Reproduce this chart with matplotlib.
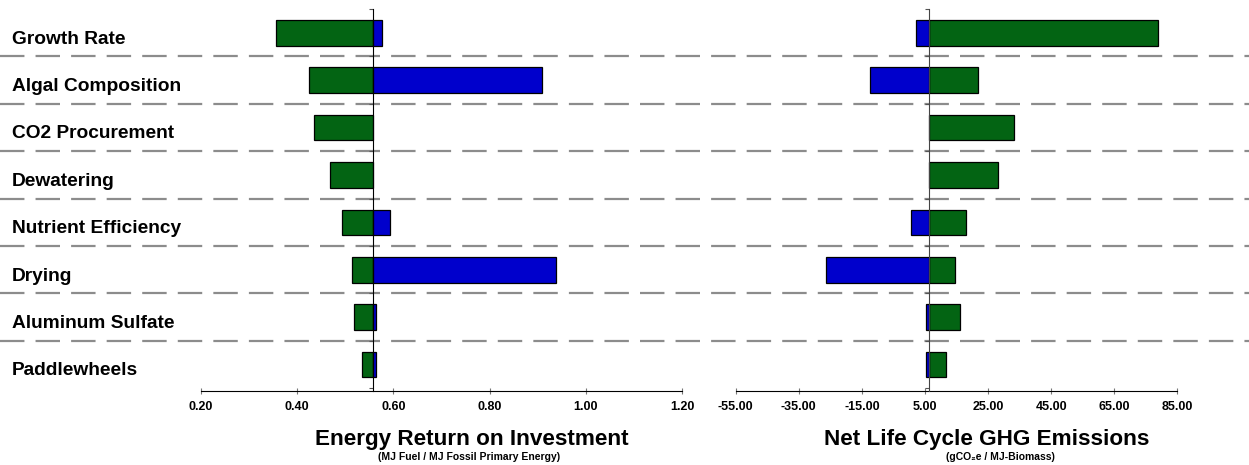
import matplotlib.pyplot as plt
import numpy as np

plt.rcParams['font.family'] = ['Liberation Sans', 'DejaVu Sans']

# Sensitivity cases, top to bottom
factors = ["Growth Rate", "Algal Composition", "CO2 Procurement", "Dewatering",
           "Nutrient Efficiency", "Drying", "Aluminum Sulfate", "Paddlewheels"]

# Energy return on investment (MJ fuel / MJ fossil primary energy)
eroi_base = 0.558
eroi_worse = [0.356, 0.425, 0.435, 0.469, 0.494, 0.513, 0.519, 0.535]
eroi_better = [0.577, 0.908, 0.558, 0.558, 0.593, 0.938, 0.563, 0.563]
eroi_ticks = [0.20, 0.40, 0.60, 0.80, 1.00, 1.20]

# Net life cycle GHG emissions (gCO2e / MJ biomass)
ghg_base = 6.4
ghg_worse = [78.8, 21.7, 33.3, 28.1, 18.0, 14.4, 16.0, 11.7]
ghg_better = [2.2, -12.4, 6.4, 6.4, 0.6, -26.4, 5.2, 5.2]
ghg_ticks = [-55, -35, -15, 5, 25, 45, 65, 85]

GREEN = '#036413'
BLUE = '#0000cc'
BAR_H = 0.54

fig = plt.figure(figsize=(12.49, 4.65), dpi=100)
bottom, height = 0.159, 0.8215
ylim = (7.56, -0.5)

# background axes for the row separators and category names
bg = fig.add_axes([0, bottom, 1, height], zorder=0)
bg.set_xlim(0, 1)
bg.set_ylim(*ylim)
bg.axis('off')
for k in range(len(factors) - 1):
    bg.axhline(k + 0.5, color='#8c8c8c', lw=1.6, linestyle=(0, (11, 5)))
for k, name in enumerate(factors):
    # baselines sit a little below the bar centres
    bg.text(0.0096, k + 0.23, name, ha='left', va='baseline',
            fontsize=13.8, fontweight='bold')


def tornado(rect, base, worse, better, ticks, xlim, spine_color):
    ax = fig.add_axes(rect, zorder=1)
    ax.patch.set_alpha(0)
    y = np.arange(len(worse))
    worse = np.array(worse)
    better = np.array(better)
    ax.barh(y, worse - base, left=base, height=BAR_H, color=GREEN,
            edgecolor='black', lw=0.9, zorder=3)
    mask = np.abs(better - base) > 1e-9
    ax.barh(y[mask], better[mask] - base, left=base, height=BAR_H, color=BLUE,
            edgecolor='black', lw=0.9, zorder=3)
    ax.set_xlim(*xlim)
    ax.set_ylim(*ylim)
    for s in ['top', 'right']:
        ax.spines[s].set_visible(False)
    ax.spines['left'].set_position(('data', base))
    ax.spines['left'].set_color(spine_color)
    ax.spines['left'].set_zorder(4)
    ax.spines['bottom'].set_color('black')
    ax.set_yticks(np.arange(-0.5, len(worse), 1))
    ax.set_yticklabels([])
    ax.tick_params(axis='y', length=3, color='#555555', direction='out')
    ax.set_xticks(ticks)
    ax.set_xticklabels(['%.2f' % t for t in ticks], fontsize=9, fontweight='bold')
    ax.tick_params(axis='x', length=5, direction='inout', color='#777777', pad=5)
    return ax


tornado([0.1609, bottom, 0.3851, height], eroi_base, eroi_worse, eroi_better,
        eroi_ticks, (0.20, 1.20), 'black')
tornado([0.589, bottom, 0.3536, height], ghg_base, ghg_worse, ghg_better,
        ghg_ticks, (-55, 85), '#444444')

fig.text(0.378, 1 - 445 / 465, "Energy Return on Investment", ha='center',
         va='baseline', fontsize=16.2, fontweight='bold')
fig.text(0.3755, 0.017, "(MJ Fuel / MJ Fossil Primary Energy)", ha='center',
         va='center', fontsize=7.5, fontweight='bold')
fig.text(0.790, 1 - 445 / 465, "Net Life Cycle GHG Emissions", ha='center',
         va='baseline', fontsize=16.2, fontweight='bold')
fig.text(0.8006, 0.017, "(gCO\u2082e / MJ-Biomass)", ha='center',
         va='center', fontsize=7.5, fontweight='bold')

fig.savefig('out.png', dpi=100)
